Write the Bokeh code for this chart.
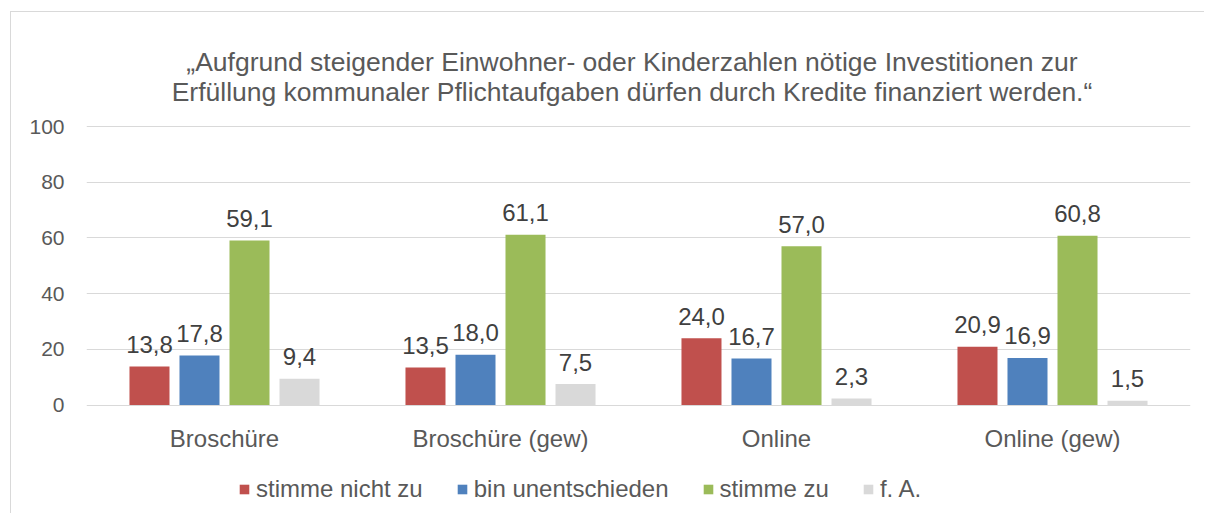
from bokeh.plotting import figure
from bokeh.models import ColumnDataSource, FactorRange, Range1d, FixedTicker, Legend, LegendItem
from bokeh.transform import dodge
from bokeh.core.properties import value
from bokeh.embed import file_html
from bokeh.resources import INLINE

# ---- data ----
categories = ["Broschüre", "Broschüre (gew)", "Online", "Online (gew)"]
series_names = ["stimme nicht zu", "bin unentschieden", "stimme zu", "f. A."]
stimme_nicht_zu = [13.8, 13.5, 24.0, 20.9]
bin_unentschieden = [17.8, 18.0, 16.7, 16.9]
stimme_zu = [59.1, 61.1, 57.0, 60.8]
f_a = [9.4, 7.5, 2.3, 1.5]
y_ticks = [0, 20, 40, 60, 80, 100]
title_lines = [
    "„Aufgrund steigender Einwohner- oder Kinderzahlen nötige Investitionen zur",
    "Erfüllung kommunaler Pflichtaufgaben dürfen durch Kredite finanziert werden.“",
]

# ---- styles / layout ----
colors = ["#C0504D", "#4F81BD", "#9BBB59", "#D9D9D9"]
offsets = [-0.2718, -0.0906, 0.0906, 0.2718]
bar_width = 0.145
FONT = "Liberation Sans"
TXT = "#595959"
PX_PER_UNIT = 2.785          # pixels per y unit
FRAME_H = 502                # frame covers the whole canvas height
ZERO_FROM_TOP = 392.5        # pixel position of y=0 from the canvas top
y_top = ZERO_FROM_TOP / PX_PER_UNIT
y_bottom = -(FRAME_H - ZERO_FROM_TOP) / PX_PER_UNIT
TITLE_X = 1.9764             # horizontal centre of the title (category units)

def unit_from_top(px):
    return (ZERO_FROM_TOP - px) / PX_PER_UNIT

series_values = [stimme_nicht_zu, bin_unentschieden, stimme_zu, f_a]

p = figure(
    x_range=FactorRange(*categories),
    y_range=Range1d(y_bottom, y_top),
    width=1194, height=FRAME_H,
    margin=(11, 0, 0, 10),
    styles={"border-top": "1px solid #d9d9d9", "border-left": "1px solid #d9d9d9"},
    output_backend="svg", toolbar_location=None, tools="",
    x_axis_location=None,
    min_border_left=75, min_border_right=15, min_border_top=0, min_border_bottom=0,
    title=None,
)
p.outline_line_color = None
p.background_fill_color = "white"
p.border_fill_color = "white"

# title lines, each centred
title_src = ColumnDataSource(dict(x=[TITLE_X] * len(title_lines),
                                  y=[unit_from_top(54), unit_from_top(84.7)],
                                  t=title_lines))
p.text(x="x", y="y", text="t", source=title_src, text_align="center",
       text_baseline="alphabetic", y_offset=-5,
       text_font=value(FONT), text_font_size="26.5px", text_color=TXT)

items = []
for name, vals, col, off in zip(series_names, series_values, colors, offsets):
    src = ColumnDataSource(dict(cat=categories, val=vals,
                                lab=[f"{v:.1f}".replace(".", ",") for v in vals]))
    r = p.vbar(x=dodge("cat", off, range=p.x_range), top="val", width=bar_width,
               source=src, fill_color=col, line_color=None)
    p.text(x=dodge("cat", off, range=p.x_range), y="val", text="lab", source=src,
           text_align="center", text_baseline="alphabetic", y_offset=-22,
           text_font=value(FONT), text_font_size="24px", text_color="#404040")
    items.append(LegendItem(label=name, renderers=[r]))

# category labels under the zero line
cat_src = ColumnDataSource(dict(cat=categories, base=[0] * len(categories)))
p.text(x="cat", y="base", text="cat", source=cat_src, text_align="center",
       text_baseline="alphabetic", y_offset=33,
       text_font=value(FONT), text_font_size="24px", text_color=TXT)

# y axis
p.yaxis.ticker = FixedTicker(ticks=y_ticks)
p.yaxis.axis_line_color = None
p.yaxis.major_tick_line_color = None
p.yaxis.minor_tick_line_color = None
p.yaxis.major_label_text_font = FONT
p.yaxis.major_label_text_font_size = "21px"
p.yaxis.major_label_text_color = TXT
p.yaxis.major_label_standoff = 16

p.xgrid.grid_line_color = None
p.ygrid.grid_line_color = "#D9D9D9"
p.ygrid.grid_line_width = 1
p.ygrid.ticker = FixedTicker(ticks=y_ticks)

legend = Legend(items=items, orientation="horizontal", location=(152, 11),
                glyph_width=12, glyph_height=12, label_standoff=6, spacing=33,
                padding=0, margin=0, border_line_color=None, background_fill_alpha=0,
                label_text_font=FONT, label_text_font_size="24px", label_text_color=TXT)
p.add_layout(legend, "center")

open("out.html", "w").write(file_html(p, INLINE))
